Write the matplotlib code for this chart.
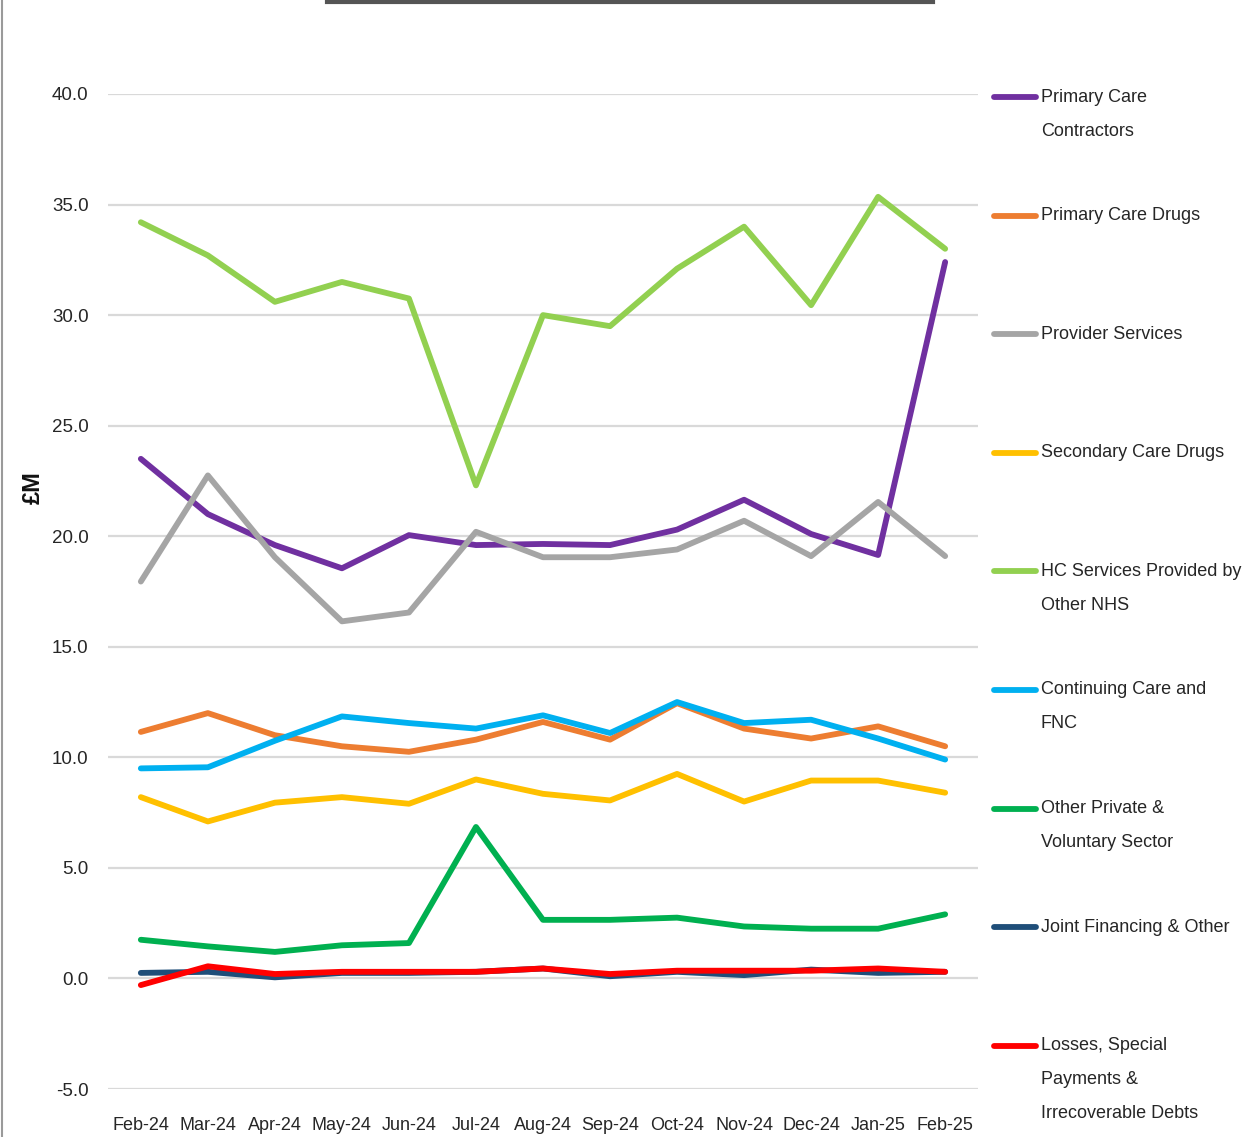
import numpy as np
import matplotlib
matplotlib.use('Agg')
import matplotlib.pyplot as plt
from matplotlib.lines import Line2D

W, H = 1246, 1137
FONT = ['Liberation Sans', 'DejaVu Sans']
plt.rcParams['font.family'] = FONT

months = ['Feb-24', 'Mar-24', 'Apr-24', 'May-24', 'Jun-24', 'Jul-24', 'Aug-24',
          'Sep-24', 'Oct-24', 'Nov-24', 'Dec-24', 'Jan-25', 'Feb-25']

primary_care_contractors = [23.5, 21.0, 19.6, 18.55, 20.05, 19.6, 19.65, 19.6, 20.3, 21.65, 20.1, 19.15, 32.4]
primary_care_drugs = [11.15, 12.0, 11.0, 10.5, 10.25, 10.8, 11.6, 10.8, 12.45, 11.3, 10.85, 11.4, 10.5]
provider_services = [17.95, 22.75, 19.05, 16.15, 16.55, 20.2, 19.05, 19.05, 19.4, 20.7, 19.1, 21.55, 19.1]
secondary_care_drugs = [8.2, 7.1, 7.95, 8.2, 7.9, 9.0, 8.35, 8.05, 9.25, 8.0, 8.95, 8.95, 8.4]
hc_other_nhs = [34.2, 32.7, 30.6, 31.5, 30.75, 22.3, 30.0, 29.5, 32.1, 34.0, 30.45, 35.35, 33.0]
continuing_care = [9.5, 9.55, 10.75, 11.85, 11.55, 11.3, 11.9, 11.1, 12.5, 11.55, 11.7, 10.85, 9.9]
other_private = [1.75, 1.45, 1.2, 1.5, 1.6, 6.85, 2.65, 2.65, 2.75, 2.35, 2.25, 2.25, 2.9]
joint_financing = [0.25, 0.3, 0.05, 0.25, 0.25, 0.3, 0.45, 0.1, 0.3, 0.15, 0.4, 0.25, 0.3]
losses = [-0.3, 0.55, 0.2, 0.3, 0.3, 0.3, 0.45, 0.2, 0.35, 0.35, 0.35, 0.45, 0.3]

labels = ['Primary Care\nContractors', 'Primary Care Drugs', 'Provider Services',
          'Secondary Care Drugs', 'HC Services Provided by\nOther NHS',
          'Continuing Care and\nFNC', 'Other Private &\nVoluntary Sector',
          'Joint Financing & Other', 'Losses, Special\nPayments &\nIrrecoverable Debts']
series = [primary_care_contractors, primary_care_drugs, provider_services,
          secondary_care_drugs, hc_other_nhs, continuing_care, other_private,
          joint_financing, losses]
colors = ['#7030a0', '#ed7d31', '#a5a5a5', '#ffc000', '#92d050',
          '#00b0f0', '#00b050', '#1f4e79', '#ff0000']

fig = plt.figure(figsize=(W / 100, H / 100), dpi=100)
ax = fig.add_axes([108 / W, 1 - 1089 / H, (978 - 108) / W, (1089 - 94) / H])

x = np.arange(len(months))
# draw in order so red and dark blue sit on top near zero
order = [4, 2, 0, 1, 5, 3, 6, 7, 8]
for i in order:
    ax.plot(x, series[i], color=colors[i], lw=4.2, solid_capstyle='round',
            solid_joinstyle='round', zorder=3 + i)

ax.set_xlim(-0.49, len(months) - 0.51)
ax.set_ylim(-5, 40)
ax.set_yticks(np.arange(-5, 41, 5))
ax.set_yticklabels([f'{v:.1f}' for v in np.arange(-5, 41, 5)])
ax.set_xticks(x)
ax.set_xticklabels(months)
ax.tick_params(length=0, labelsize=13, colors='#262626')
ax.tick_params(axis='y', labelsize=13.5, pad=14)
ax.tick_params(axis='x', pad=20)
ax.grid(axis='y', color='#d9d9d9', lw=1.6, zorder=0)
ax.set_axisbelow(True)
for s in ax.spines.values():
    s.set_visible(False)

fig.text(33 / W, 1 - 488 / H, '£M', rotation=90, ha='center', va='center',
         fontsize=17, fontweight='bold', color='#111111')

# legend on the right, handle level with the first text line
y0, step, line_h = 97, 118.6, 34
for k, (lab, col) in enumerate(zip(labels, colors)):
    yc = y0 + k * step
    fig.add_artist(Line2D([994 / W, 1036 / W], [1 - yc / H, 1 - yc / H], color=col,
                          lw=4.2, solid_capstyle='round', transform=fig.transFigure))
    for j, part in enumerate(lab.split('\n')):
        fig.text(1041 / W, 1 - (yc + j * line_h) / H, part, ha='left', va='center',
                 fontsize=13, color='#262626')

# page border and the edge of the table above
fig.add_artist(Line2D([1.5 / W, 1.5 / W], [0, 1], color='#9a9a9a', lw=1.5,
                      transform=fig.transFigure))
fig.add_artist(Line2D([327 / W, 933 / W], [1 - 1.5 / H, 1 - 1.5 / H], color='#555555',
                      lw=3, transform=fig.transFigure))

fig.savefig('out.png', dpi=100, facecolor='white')
